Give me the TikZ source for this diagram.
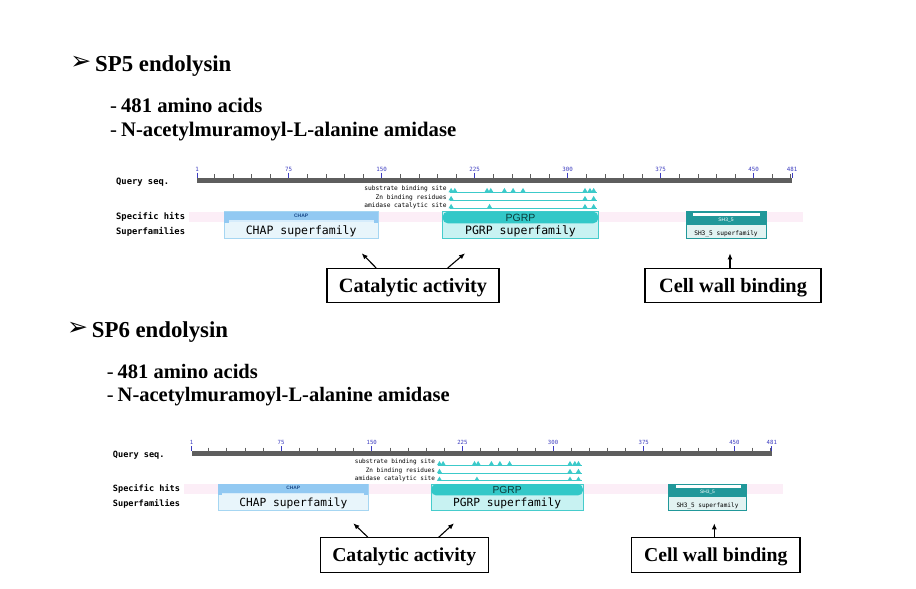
\documentclass[tikz,border=0pt]{standalone}
\usepackage{fontspec}
\setmainfont{Liberation Serif}
\newfontfamily\monof{DejaVu Sans Mono}
\newfontfamily\sansf{Liberation Sans}
\newfontfamily\dejavuf{DejaVu Sans}
\usetikzlibrary{arrows.meta}
\definecolor{bargray}{HTML}{5E5E5E}
\definecolor{ticklbl}{HTML}{3C3CC0}
\definecolor{chapblue}{HTML}{92C9F2}
\definecolor{chapstrip}{HTML}{D6ECFB}
\definecolor{chapfill}{HTML}{E8F5FB}
\definecolor{chapedge}{HTML}{A6D6F2}
\definecolor{chaptext}{HTML}{1A4A8A}
\definecolor{pgrpteal}{HTML}{33C8C8}
\definecolor{pgrpfill}{HTML}{C8F2F2}
\definecolor{pgrpedge}{HTML}{46CCCC}
\definecolor{pgrptext}{HTML}{0B3B3B}
\definecolor{shteal}{HTML}{21989A}
\definecolor{shfill}{HTML}{E2F3F2}
\definecolor{siteclr}{HTML}{3CCACA}
\definecolor{pinkband}{HTML}{FCEEF7}
\pgfmathdeclarefunction{rx}{1}{\pgfmathparse{(#1-1)*1.2396}}
\tikzset{
  rowlbl/.style={inner sep=0, anchor=west, font=\monof\bfseries\fontsize{8.8}{8.8}\selectfont},
  sitelbl/.style={inner sep=0, anchor=east, font=\monof\fontsize{6.2}{6.2}\selectfont},
  ticklabel/.style={inner sep=0, text=ticklbl, font=\monof\fontsize{5.8}{5.8}\selectfont},
  minortick/.style={draw=bargray, line width=0.6pt},
  majortick/.style={draw=ticklbl, line width=0.7pt},
  siteline/.style={draw=siteclr, line width=0.8pt},
  sfam/.style={inner sep=0, font=\monof\fontsize{11.5}{11.5}\selectfont},
  callout/.style={draw, line width=1.1pt, inner sep=0, fill=white,
    font=\bfseries\fontsize{20.3}{24}\selectfont, text height=13.4pt, text depth=0pt},
  callarrow/.style={-{Latex[length=6pt,width=5pt]}, line width=1.1pt},
  headline/.style={inner sep=0, anchor=base west, font=\bfseries\fontsize{22.8}{26}\selectfont},
  subline/.style={inner sep=0, anchor=base west, font=\bfseries\fontsize{20.7}{24}\selectfont},
  bullet/.style={inner sep=0, font=\dejavuf\fontsize{25}{25}\selectfont},
}
\newcommand\cddpanel[1]{%
  % row labels
  \node[rowlbl] (#1q) at (-81,4.2) {Query seq.};
  \node[rowlbl] (#1sh) at (-81,39) {Specific hits};
  \node[rowlbl] (#1sf) at (-81,54) {Superfamilies};
  % pink band
  \fill[pinkband] (-8,34) rectangle (606,44.5);
  % ruler bar
  \fill[bargray] (0,0) rectangle (595,4.8);
  \foreach \r in {15,30,...,480} {\draw[minortick] ({rx(\r)},-3.5) -- ({rx(\r)},0);}
  \foreach \r in {1,75,150,225,300,375,450,481} {
    \draw[majortick] ({rx(\r)},-5) -- ({rx(\r)},0);
    \node[ticklabel] (#1t\r) at ({rx(\r)},-8.3) {\r};
  }
  % site rows
  \node[sitelbl] (#1s1) at (249.7,11.6) {substrate binding site};
  \node[sitelbl] (#1s2) at (249.7,20.4) {Zn binding residues};
  \node[sitelbl] (#1s3) at (249.7,28.3) {amidase catalytic site};
  \draw[siteline] ({rx(205)},14.6) -- ({rx(324)},14.6);
  \draw[siteline] ({rx(205)},22.6) -- ({rx(324)},22.6);
  \draw[siteline] ({rx(205)},30.6) -- ({rx(324)},30.6);
  \foreach \r in {206,209,235,238,249,256,264,314,318,321}
    {\fill[siteclr] ({rx(\r)-2.6},14.6) -- ({rx(\r)},10.2) -- ({rx(\r)+2.6},14.6) -- cycle;}
  \foreach \r in {206,314,321}
    {\fill[siteclr] ({rx(\r)-2.6},22.6) -- ({rx(\r)},18.2) -- ({rx(\r)+2.6},22.6) -- cycle;}
  \foreach \r in {206,237,314,321}
    {\fill[siteclr] ({rx(\r)-2.6},30.6) -- ({rx(\r)},26.2) -- ({rx(\r)+2.6},30.6) -- cycle;}
  % CHAP
  \fill[chapfill] (27,34) rectangle (181.3,60.6);
  \draw[chapedge, line width=0.6pt] (27,34) rectangle (181.3,60.6);
  \fill[chapblue] (27,34) rectangle (181.3,42.6);
  \fill[chapstrip] (31.5,42.6) rectangle (176.8,44.4);
  \fill[chapblue] (27,42.6) rectangle (31.5,45.2);
  \fill[chapblue] (176.8,42.6) rectangle (181.3,45.2);
  \node[inner sep=0, text=chaptext, font=\sansf\bfseries\fontsize{5}{5}\selectfont] (#1chapn) at (104.2,38.2) {CHAP};
  \node[sfam] (#1chapsf) at (104.2,53.4) {CHAP superfamily};
  % PGRP
  \fill[pgrpfill] (245.7,34) rectangle (401.3,60.6);
  \draw[pgrpedge, line width=0.6pt] (245.7,34) rectangle (401.3,60.6);
  \fill[pgrpteal, rounded corners=5pt] (245.7,34) rectangle (401.3,45.6);
  \node[inner sep=0, text=pgrptext, font=\sansf\fontsize{10.5}{10.5}\selectfont] (#1pgrpn) at (323.5,39.8) {PGRP};
  \node[sfam] (#1pgrpsf) at (323.5,53.8) {PGRP superfamily};
  % SH3_5
  \fill[shfill] (489,34) rectangle (569,60.6);
  \draw[shteal, line width=0.6pt] (489,34) rectangle (569,60.6);
  \fill[shteal] (489,34) rectangle (569,47.3);
  \fill[white] (496.3,35.2) rectangle (563,38.3);
  \node[inner sep=0, text=white, font=\sansf\fontsize{5}{5}\selectfont] (#1shn) at (529,42.6) {SH3\_5};
  \node[inner sep=0, font=\monof\fontsize{6.2}{6.2}\selectfont] (#1shsf) at (529,55.8) {SH3\_5 superfamily};
}
\begin{document}
\begin{tikzpicture}[x=1pt, y=-1pt]
\fill[white] (0,0) rectangle (916,589);
\useasboundingbox (0,0) rectangle (916,589);

% ---------- SP5 ----------
\node[bullet] (b1) at (80.8,62.5) {➢};
\node[headline] (h1) at (95,71.7) {SP5 endolysin};
\node[subline] (l1a) at (110,112.7) {\textmd{-}\kern4pt 481 amino acids};
\node[subline] (l1b) at (110,136.7) {\textmd{-}\kern4pt N-acetylmuramoyl-L-alanine amidase};
\begin{scope}[shift={(197,177.7)}]
  \cddpanel{p1}
\end{scope}
\node[callout, minimum width=172pt, minimum height=34pt] (cat1) at (413,285.5) {Catalytic activity};
\node[callout, minimum width=176pt, minimum height=34pt] (cw1) at (733,285.5) {Cell wall binding};
\coordinate (a1l) at (361.7,253.3);
\coordinate (a1r) at (465,253.3);
\coordinate (a1c) at (730,253.3);
\draw[callarrow] ([xshift=49.7pt]cat1.north west) -- (a1l);
\draw[callarrow] ([xshift=121.3pt]cat1.north west) -- (a1r);
\draw[callarrow] ([xshift=-3pt]cw1.north) -- (a1c);

% ---------- SP6 ----------
\node[bullet] (b2) at (77.5,329) {➢};
\node[headline] (h2) at (91.7,337.3) {SP6 endolysin};
\node[subline, font=\bfseries\fontsize{20.5}{24}\selectfont] (l2a) at (106.7,378.3) {\textmd{-}\kern4pt 481 amino acids};
\node[subline, font=\bfseries\fontsize{20.5}{24}\selectfont] (l2b) at (106.7,401.7) {\textmd{-}\kern4pt N-acetylmuramoyl-L-alanine amidase};
\begin{scope}[shift={(191.7,451)}, scale=0.975, transform shape]
  \cddpanel{p2}
\end{scope}
\node[callout, minimum width=168.3pt, minimum height=34.6pt, font=\bfseries\fontsize{19.7}{24}\selectfont] (cat2) at (404.2,555) {Catalytic activity};
\node[callout, minimum width=168.3pt, minimum height=34.6pt, font=\bfseries\fontsize{19.7}{24}\selectfont] (cw2) at (715.8,555) {Cell wall binding};
\coordinate (a2l) at (353.3,523.3);
\coordinate (a2r) at (454,523.3);
\coordinate (a2c) at (714.3,523.3);
\draw[callarrow] ([xshift=48.3pt]cat2.north west) -- (a2l);
\draw[callarrow] ([xshift=119.3pt]cat2.north west) -- (a2r);
\draw[callarrow] ([xshift=-1.5pt]cw2.north) -- (a2c);
\end{tikzpicture}
\end{document}
